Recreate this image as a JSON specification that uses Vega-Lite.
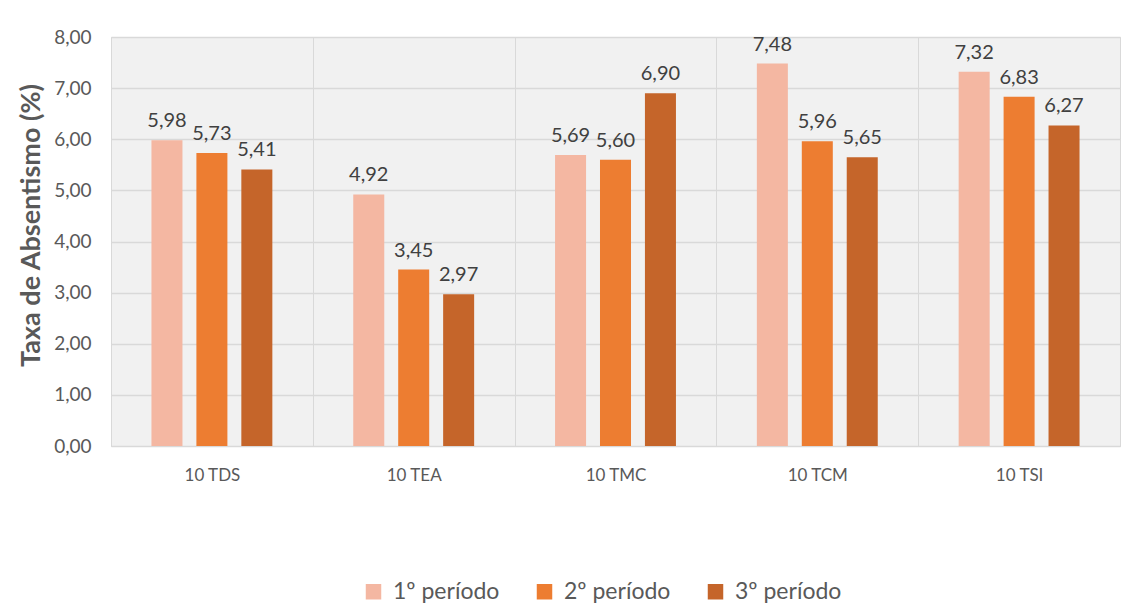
{
  "$schema": "https://vega.github.io/schema/vega-lite/v6.json",
  "width": 1009,
  "height": 409,
  "autosize": {"type": "none"},
  "padding": {"left": 111, "top": 37, "right": 3, "bottom": 169},
  "background": "#ffffff",
  "config": {
    "locale": {"number": {"decimal": ",", "thousands": ".", "grouping": [3], "currency": ["", " €"]}},
    "view": {"fill": "#f1f1f1", "stroke": "#d9d9d9", "strokeWidth": 1},
    "font": "Lato"
  },
  "data": {
    "values": [
      {"turma": "10 TDS", "periodo": "1º período", "taxa": 5.98},
      {"turma": "10 TDS", "periodo": "2º período", "taxa": 5.73},
      {"turma": "10 TDS", "periodo": "3º período", "taxa": 5.41},
      {"turma": "10 TEA", "periodo": "1º período", "taxa": 4.92},
      {"turma": "10 TEA", "periodo": "2º período", "taxa": 3.45},
      {"turma": "10 TEA", "periodo": "3º período", "taxa": 2.97},
      {"turma": "10 TMC", "periodo": "1º período", "taxa": 5.69},
      {"turma": "10 TMC", "periodo": "2º período", "taxa": 5.60},
      {"turma": "10 TMC", "periodo": "3º período", "taxa": 6.90},
      {"turma": "10 TCM", "periodo": "1º período", "taxa": 7.48},
      {"turma": "10 TCM", "periodo": "2º período", "taxa": 5.96},
      {"turma": "10 TCM", "periodo": "3º período", "taxa": 5.65},
      {"turma": "10 TSI", "periodo": "1º período", "taxa": 7.32},
      {"turma": "10 TSI", "periodo": "2º período", "taxa": 6.83},
      {"turma": "10 TSI", "periodo": "3º período", "taxa": 6.27}
    ]
  },
  "encoding": {
    "x": {
      "field": "turma", "type": "nominal", "sort": null,
      "scale": {"paddingInner": 0, "paddingOuter": 0},
      "axis": {
        "title": null, "labelAngle": 0, "labelFontSize": 17, "labelColor": "#595959",
        "labelPadding": 21, "ticks": false, "domain": true, "domainColor": "#d9d9d9",
        "grid": true, "gridColor": "#d9d9d9", "tickBand": "extent", "labelFont": "Lato"
      }
    },
    "xOffset": {
      "field": "periodo", "type": "nominal", "sort": null,
      "scale": {"paddingInner": 0.31, "paddingOuter": 0.9}
    },
    "y": {
      "field": "taxa", "type": "quantitative",
      "scale": {"domain": [0, 8], "nice": false},
      "axis": {
        "title": "Taxa de Absentismo (%)", "titleFontSize": 27, "titleFontWeight": "bold",
        "titleColor": "#595959", "titlePadding": 8, "titleFont": "Lato", "titleY": 188,
        "format": ".2f", "values": [0, 1, 2, 3, 4, 5, 6, 7, 8], "labelOverlap": false,
        "labelFontSize": 19, "labelColor": "#595959", "labelPadding": 20, "labelFont": "Lato",
        "ticks": false, "domain": false, "grid": true, "gridColor": "#d9d9d9", "gridWidth": 1.3
      }
    }
  },
  "layer": [
    {
      "mark": {"type": "bar"},
      "encoding": {
        "color": {
          "field": "periodo", "type": "nominal", "sort": null,
          "scale": {"domain": ["1º período", "2º período", "3º período"], "range": ["#f4b7a2", "#ed7d31", "#c5652a"]},
          "legend": {
            "title": null, "orient": "none", "direction": "horizontal",
            "legendX": 251, "legendY": 543,
            "symbolType": "square", "symbolSize": 240, "symbolStrokeWidth": 0,
            "labelFontSize": 23, "labelColor": "#595959", "columnPadding": 33,
            "labelFont": "Lato", "labelOffset": 8
          }
        }
      }
    },
    {
      "mark": {"type": "text", "baseline": "bottom", "dy": -9, "fontSize": 20, "color": "#404040", "font": "Lato"},
      "encoding": {
        "text": {"field": "taxa", "type": "quantitative", "format": ".2f"}
      }
    }
  ]
}
